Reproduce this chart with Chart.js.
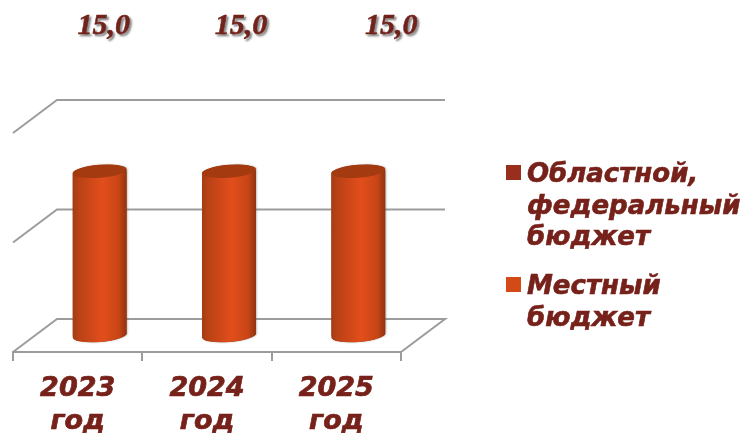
<!DOCTYPE html>
<html><head><meta charset="utf-8">
<style>html,body{margin:0;padding:0;background:#fff;overflow:hidden}canvas{display:block}</style>
<script src="https://cdn.jsdelivr.net/npm/chart.js@4"></script>
</head><body><canvas id="c" width="745" height="433"></canvas>
<script>
const categories = [["2023","год"],["2024","год"],["2025","год"]];
const localBudget = [15,15,15];
const regionalBudget = [0,0,0];
const localLabel = ["Местный","бюджет"];
const regionalLabel = ["Областной,","федеральный","бюджет"];
const yTicksStep = 10, yMax = 20;

const TEXT = '#76211a', GRID = '#9c9c9c', DX = 44, DY = -33;
const labelShift = [4,12,33];
const RX = 27, RY = 6.5, ROT = -4.5*Math.PI/180;

function barGradient(c, cx){
  const g = c.createLinearGradient(cx-RX,0,cx+RX,0);
  g.addColorStop(0,'#a33c14'); g.addColorStop(.1,'#b84116'); g.addColorStop(.55,'#e24e1b');
  g.addColorStop(.85,'#c84516'); g.addColorStop(1,'#8f3410');
  return g;
}
function cylPath(c,el){
  c.beginPath();
  c.ellipse(el.x,el.y,RX,RY,ROT,Math.PI,2*Math.PI);
  c.ellipse(el.x,el.base,RX,RY,ROT,0,Math.PI);
  c.closePath();
}
const plot3d = {
  id:'plot3d',
  beforeDatasetsDraw(chart){
    const c = chart.ctx, a = chart.chartArea, y = chart.scales.y;
    c.save();
    c.strokeStyle = GRID; c.lineWidth = 2; c.lineJoin = 'miter';
    y.ticks.forEach(t=>{
      const py = y.getPixelForValue(t.value);
      c.beginPath(); c.moveTo(a.left,py); c.lineTo(a.left+DX,py+DY); c.lineTo(a.right+DX,py+DY);
      if(t.value===0){ c.lineTo(a.right,py); c.lineTo(a.left,py); }
      c.stroke();
    });
    c.restore();
    const els = chart.getDatasetMeta(1).data;
    c.save(); c.translate(DX/2,DY/2);
    c.save();
    c.shadowColor='rgba(90,90,90,.4)'; c.shadowBlur=2; c.shadowOffsetX=1; c.shadowOffsetY=0;
    c.fillStyle='#a33a10';
    els.forEach(el=>{cylPath(c,el); c.fill();});
    c.restore();
    c.beginPath();
    els.forEach(el=>{
      c.moveTo(el.x-RX,el.y);
      c.ellipse(el.x,el.y,RX,RY,ROT,Math.PI,2*Math.PI);
      c.ellipse(el.x,el.base,RX,RY,ROT,0,Math.PI);
      c.closePath();
    });
    c.clip();
  },
  afterDatasetsDraw(chart){
    const c = chart.ctx, els = chart.getDatasetMeta(1).data;
    els.forEach(el=>{
      c.fillStyle = barGradient(c,el.x);
      c.beginPath(); c.ellipse(el.x,el.base,RX,RY,ROT,0,2*Math.PI); c.fill();
      c.fillStyle = '#a33a10';
      c.beginPath(); c.ellipse(el.x,el.y,RX,RY,ROT,0,2*Math.PI); c.fill();
    });
    c.restore();
    // value labels
    c.save();
    c.font = 'italic bold 30px "Liberation Serif"'; c.fillStyle = TEXT;
    c.strokeStyle = TEXT; c.lineWidth = .5;
    c.textAlign='center'; c.textBaseline='alphabetic';
    c.shadowColor='rgba(60,60,60,.6)'; c.shadowBlur=2; c.shadowOffsetX=2; c.shadowOffsetY=2;
    localBudget.forEach((v,i)=>{
      const s = v.toFixed(1).replace('.',','), px = els[i].x+DX/2+labelShift[i];
      c.fillText(s, px, 34); c.strokeText(s, px, 34);
    });
    c.restore();
    // legend
    c.save();
    const ds = chart.data.datasets;
    const order = [0,1];
    let top = 165;
    c.font='italic bold 26px "DejaVu Sans"'; c.textBaseline='alphabetic'; c.textAlign='left';
    c.strokeStyle = TEXT; c.lineWidth = .6;
    order.forEach(k=>{
      const d = ds[k];
      c.fillStyle = d.legendColor; c.fillRect(506,top,15,15);
      c.fillStyle = TEXT;
      d.label.forEach((t,j)=>{
        c.fillText(t,527,top+17+j*31.7); c.strokeText(t,527,top+17+j*31.7);
      });
      top += 112;
    });
    c.restore();
  }
};
new Chart(document.getElementById('c'),{
  type:'bar',
  data:{labels:categories,datasets:[
    {label:regionalLabel,data:regionalBudget,backgroundColor:'#9a2e1c',legendColor:'#9a2e1c'},
    {label:localLabel,data:localBudget,legendColor:'#d34a17',
     backgroundColor(ctx){
       const s = ctx.chart.scales.x;
       const px = (s&&ctx.dataIndex!==undefined) ? s.getPixelForValue(ctx.dataIndex) : NaN;
       if(!isFinite(px)) return '#d34a17';
       return barGradient(ctx.chart.ctx,px);
     }}
  ]},
  options:{
    responsive:false,animation:false,devicePixelRatio:1,
    layout:{padding:{left:13,top:133,right:344,bottom:0}},
    datasets:{bar:{barThickness:54,categoryPercentage:1}},
    plugins:{legend:{display:false},tooltip:{enabled:false},title:{display:false}},
    scales:{
      x:{stacked:true,offset:true,
         afterFit(s){s.height=81;},
         border:{display:true,color:GRID,width:2},
         grid:{drawOnChartArea:false,drawTicks:true,tickLength:9,color:GRID,lineWidth:2,offset:true},
         ticks:{color:TEXT,maxRotation:0,padding:11,autoSkip:false,
                textStrokeColor:TEXT,textStrokeWidth:.7,
                font:{family:'"DejaVu Sans"',style:'italic',weight:'bold',size:27,lineHeight:33/27}}},
      y:{stacked:true,display:false,min:0,max:yMax,ticks:{stepSize:yTicksStep}}
    }
  },
  plugins:[plot3d]
});
</script></body></html>
